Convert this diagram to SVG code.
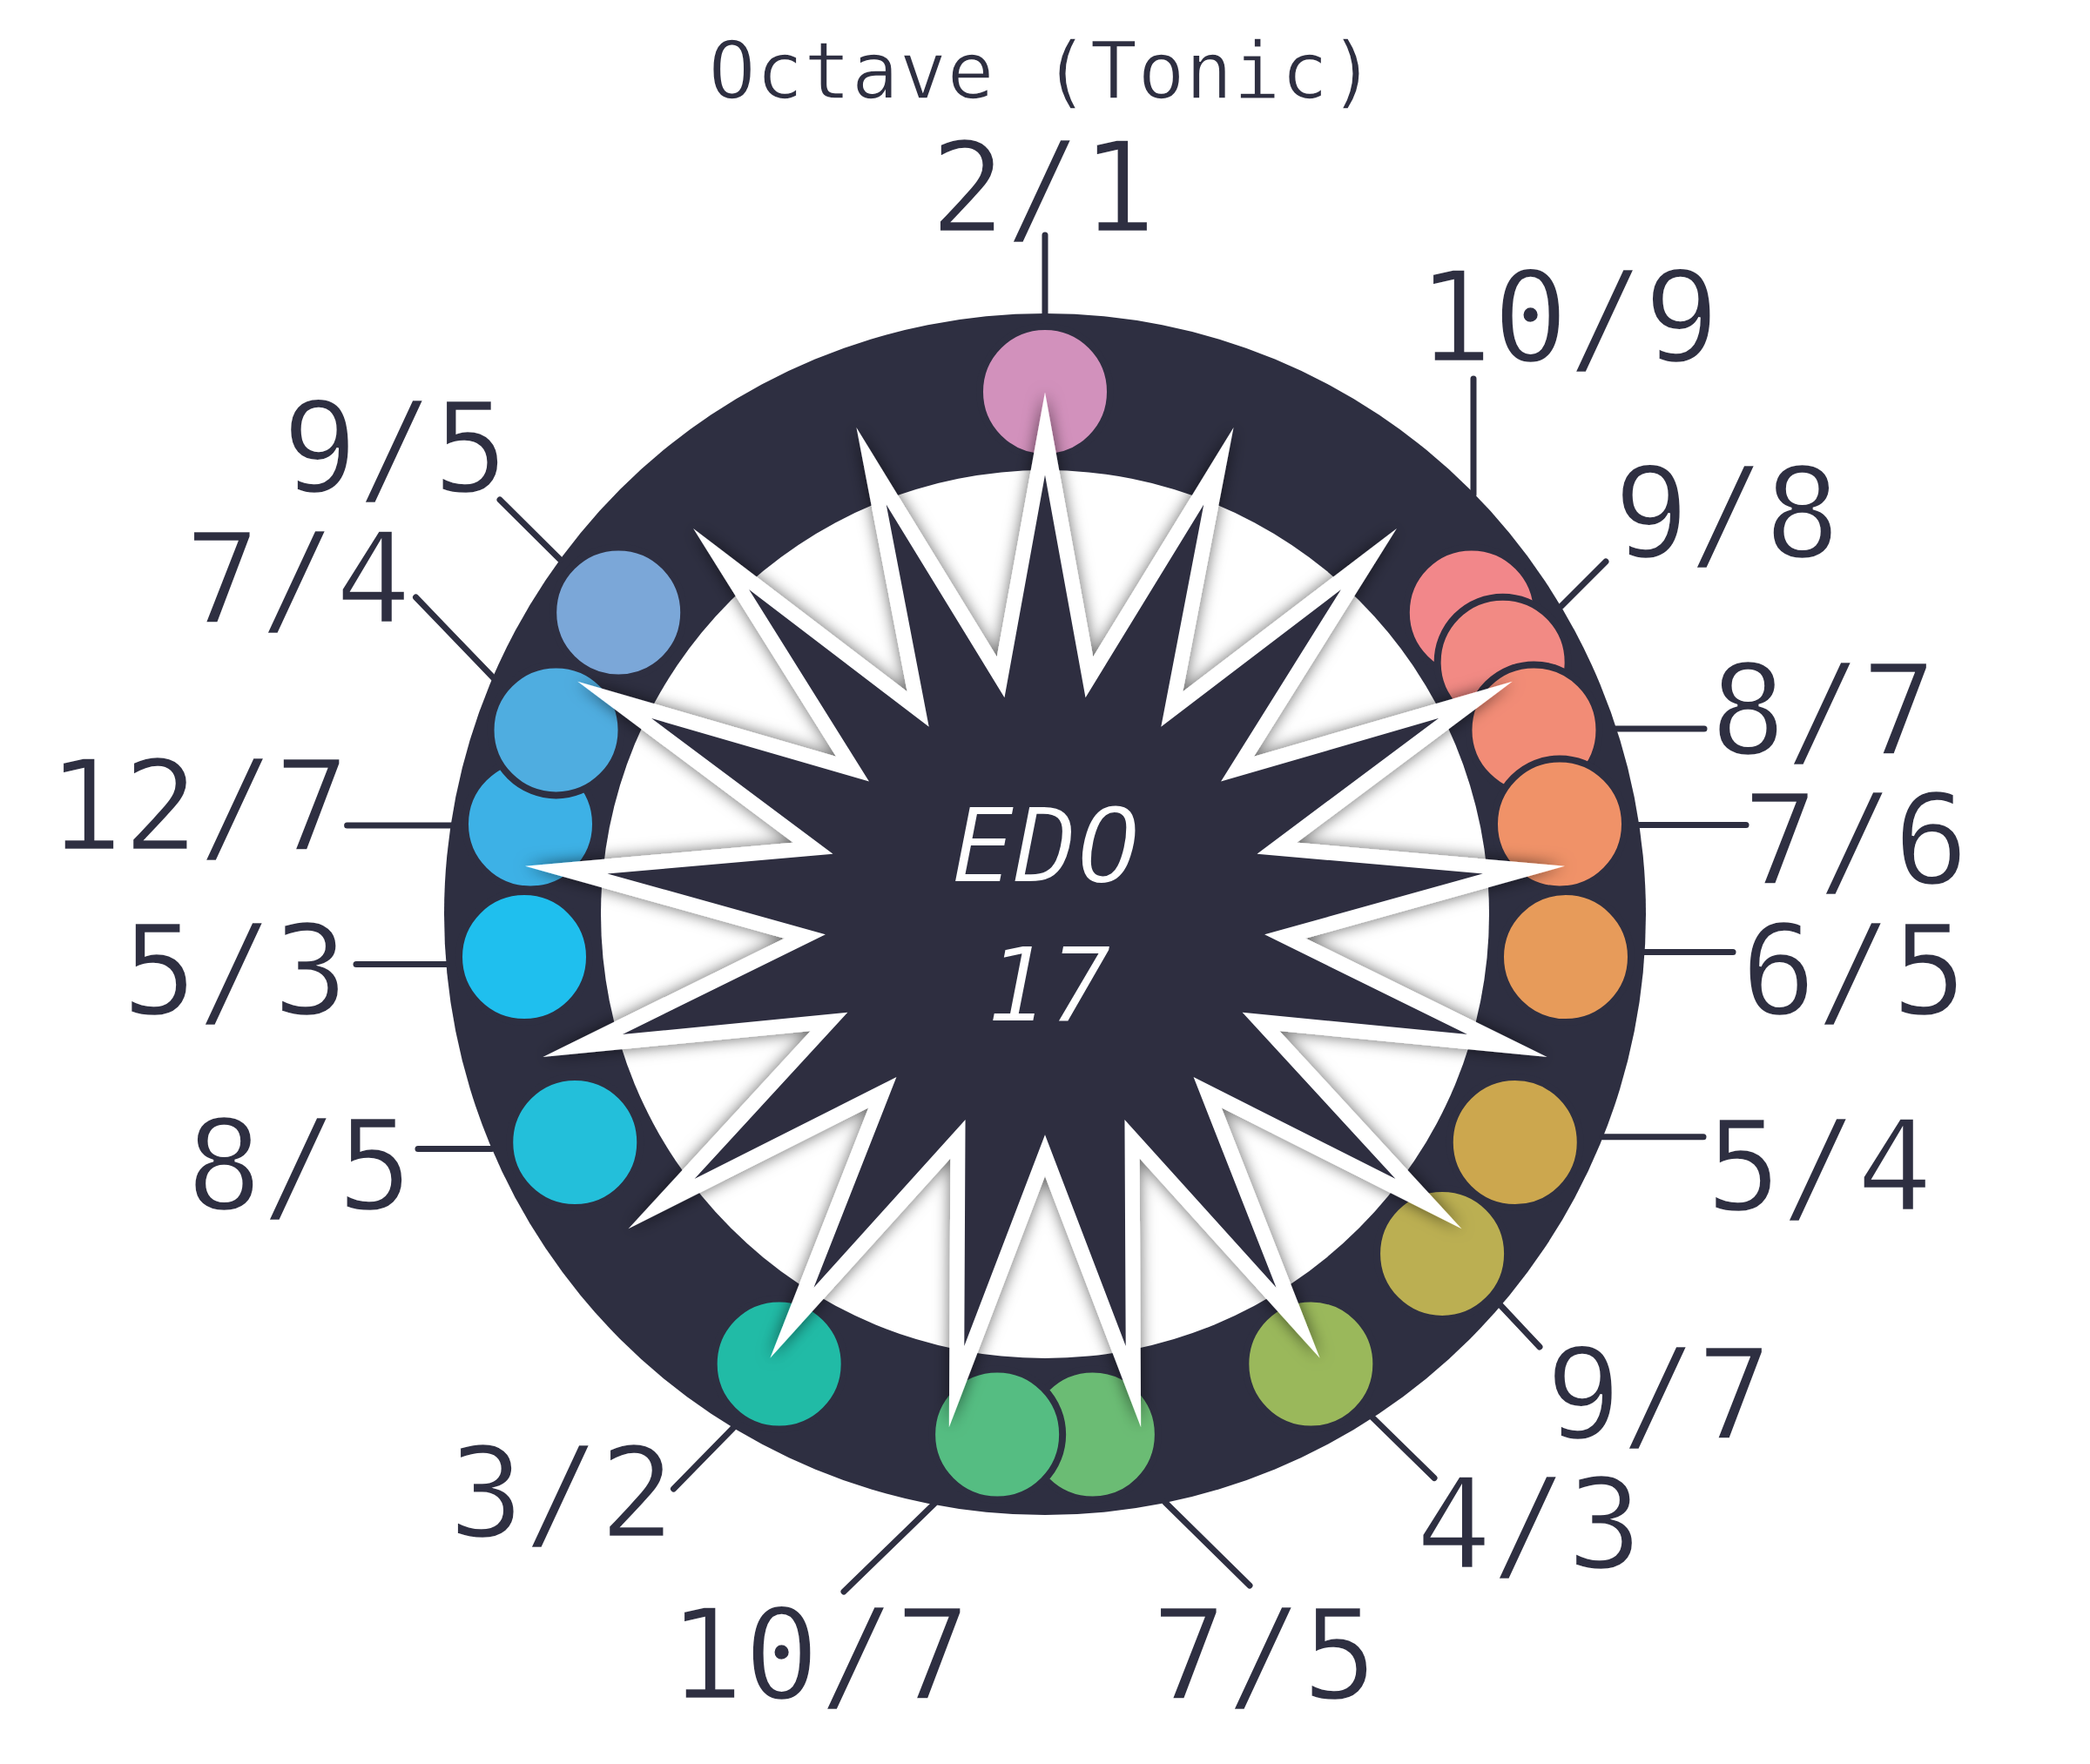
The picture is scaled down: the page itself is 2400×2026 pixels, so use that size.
<svg xmlns="http://www.w3.org/2000/svg" width="2400" height="2026" viewBox="0 0 2400 2026">
<style>
.lbl{font-family:"DejaVu Sans Mono","Liberation Mono",monospace;font-size:144px;fill:#2e2f41;text-anchor:middle;stroke:#ffffff;stroke-width:2.5px}
.ttl{font-family:"DejaVu Sans Mono","Liberation Mono",monospace;font-size:90px;fill:#2e2f41;text-anchor:middle;letter-spacing:0.6px;stroke:#ffffff;stroke-width:1.5px}
.ctr{font-family:"DejaVu Sans Mono","Liberation Mono",monospace;font-size:120px;font-style:italic;fill:#ffffff;text-anchor:middle;stroke:#2e2f41;stroke-width:2px}
.dot{stroke:#2e2f41;stroke-width:8}
.con line{stroke:#2e2f41;stroke-width:7;stroke-linecap:round}
</style>
<defs>
<filter id="shadow" x="-20%" y="-20%" width="140%" height="140%">
<feDropShadow dx="0" dy="0" stdDeviation="9" flood-color="#000000" flood-opacity="0.6"/>
</filter>
</defs>
<rect width="2400" height="2026" fill="#ffffff"/>
<g id="wheel">
<circle cx="1200" cy="1050" r="690" fill="#2e2f41"/>
<circle cx="1200" cy="1050" r="510" fill="#ffffff"/>
</g>
<g id="dots">
<circle id="n-2-1" class="dot" cx="1200" cy="450" r="75" fill="#d291bc"/>
<circle id="n-10-9" class="dot" cx="1689.8" cy="703.5" r="75" fill="#f2878a"/>
<circle id="n-9-8" class="dot" cx="1725.65" cy="760.7" r="75" fill="#f28a84"/>
<circle id="n-8-7" class="dot" cx="1761.47" cy="838.42" r="75" fill="#f28c76"/>
<circle id="n-7-6" class="dot" cx="1790.99" cy="946.44" r="75" fill="#f09268"/>
<circle id="n-6-5" class="dot" cx="1797.99" cy="1099.08" r="75" fill="#e79b5a"/>
<circle id="n-5-4" class="dot" cx="1739.76" cy="1312.03" r="75" fill="#cca74e"/>
<circle id="n-9-7" class="dot" cx="1656.09" cy="1439.89" r="75" fill="#bbaf52"/>
<circle id="n-4-3" class="dot" cx="1505.32" cy="1566.55" r="75" fill="#9ab85b"/>
<circle id="n-7-5" class="dot" cx="1254.86" cy="1647.49" r="75" fill="#6bbc74"/>
<circle id="n-10-7" class="dot" cx="1145.14" cy="1647.49" r="75" fill="#55bd82"/>
<circle id="n-3-2" class="dot" cx="894.68" cy="1566.55" r="75" fill="#21bba6"/>
<circle id="n-8-5" class="dot" cx="660.24" cy="1312.03" r="75" fill="#23bfda"/>
<circle id="n-5-3" class="dot" cx="602.01" cy="1099.08" r="75" fill="#1fbfee"/>
<circle id="n-12-7" class="dot" cx="609.01" cy="946.44" r="75" fill="#3db1e6"/>
<circle id="n-7-4" class="dot" cx="638.53" cy="838.42" r="75" fill="#4fade0"/>
<circle id="n-9-5" class="dot" cx="710.2" cy="703.5" r="75" fill="#7ba7d8"/>
</g>
<g id="star" filter="url(#shadow)">
<polygon fill="#2e2f41" stroke="#ffffff" stroke-width="17" stroke-linejoin="miter" stroke-miterlimit="10" points="1200,498 1250.9,777.72 1399.4,535.28 1345.82,814.49 1571.88,642.07 1421.05,883.07 1694.13,803.96 1466.43,974.2 1749.64,999.07 1475.82,1075.56 1730.93,1201.06 1447.96,1173.47 1640.51,1382.65 1386.61,1254.71 1490.59,1519.32 1300.06,1308.29 1301.43,1592.6 1200,1327 1098.57,1592.6 1099.94,1308.29 909.41,1519.32 1013.39,1254.71 759.49,1382.65 952.04,1173.47 669.07,1201.06 924.18,1075.56 650.36,999.07 933.57,974.2 705.87,803.96 978.95,883.07 828.12,642.07 1054.18,814.49 1000.6,535.28 1149.1,777.72"/>
</g>
<g id="center">
<text class="ctr" x="1201" y="1013">EDO</text>
<text class="ctr" x="1204" y="1173">17</text>
</g>
<g id="connectors" class="con">
<line x1="1200" y1="270" x2="1200" y2="360"/>
<line x1="1692" y1="435" x2="1692" y2="568"/>
<line x1="1844" y1="645" x2="1793" y2="696"/>
<line x1="1957" y1="837" x2="1855" y2="837"/>
<line x1="2005" y1="947.5" x2="1882" y2="947.5"/>
<line x1="1990" y1="1093.5" x2="1888" y2="1093.5"/>
<line x1="1956" y1="1305.7" x2="1840" y2="1305.7"/>
<line x1="1768" y1="1547" x2="1722" y2="1498"/>
<line x1="1647" y1="1697.5" x2="1575" y2="1627"/>
<line x1="1435" y1="1821" x2="1338" y2="1725.5"/>
<line x1="969" y1="1828" x2="1073" y2="1727"/>
<line x1="773.5" y1="1710" x2="842" y2="1640"/>
<line x1="480" y1="1319.5" x2="564.6" y2="1319.5"/>
<line x1="409" y1="1107.6" x2="513" y2="1107.6"/>
<line x1="398.6" y1="948" x2="519" y2="948"/>
<line x1="477.5" y1="686" x2="567" y2="779"/>
<line x1="574" y1="574" x2="643.5" y2="643"/>
</g>
<g id="labels">
<text class="ttl" x="1197" y="113">Octave (Tonic)</text>
<text class="lbl" x="1198" y="266">2/1</text>
<text class="lbl" x="1801" y="415">10/9</text>
<text class="lbl" x="1983" y="640">9/8</text>
<text class="lbl" x="2094" y="866">8/7</text>
<text class="lbl" x="2131" y="1015">7/6</text>
<text class="lbl" x="2129" y="1165">6/5</text>
<text class="lbl" x="2089" y="1390">5/4</text>
<text class="lbl" x="1905" y="1652">9/7</text>
<text class="lbl" x="1756" y="1801">4/3</text>
<text class="lbl" x="1452" y="1951">7/5</text>
<text class="lbl" x="941" y="1951">10/7</text>
<text class="lbl" x="645" y="1765">3/2</text>
<text class="lbl" x="344" y="1389">8/5</text>
<text class="lbl" x="270" y="1165">5/3</text>
<text class="lbl" x="228" y="976">12/7</text>
<text class="lbl" x="342" y="715">7/4</text>
<text class="lbl" x="454" y="565">9/5</text>
</g>
</svg>
